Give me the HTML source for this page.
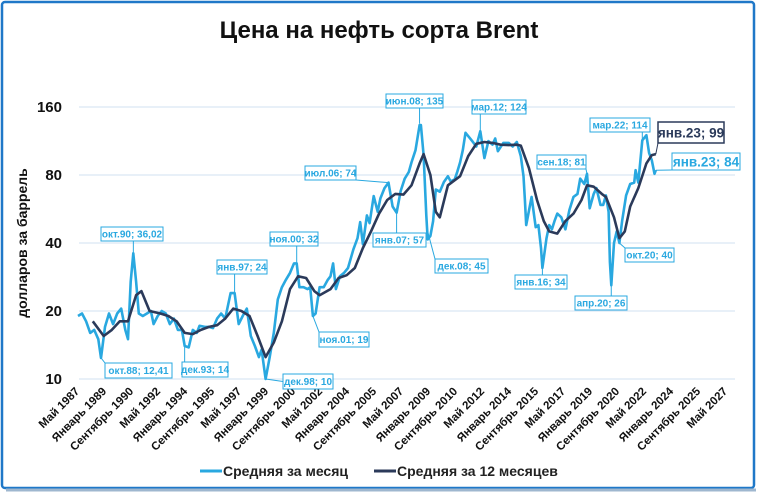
<!DOCTYPE html>
<html><head><meta charset="utf-8"><style>
body{margin:0;background:#fff;}
svg text{font-family:"Liberation Sans","DejaVu Sans",sans-serif;}
</style></head><body>
<svg id="chart" width="758" height="493" viewBox="0 0 758 493" xmlns="http://www.w3.org/2000/svg">
<rect x="2" y="2" width="752" height="486" rx="3" fill="#fff" stroke="#1f78c8" stroke-width="2.5"/>
<line x1="6" y1="490" x2="756" y2="490" stroke="#9fb7cf" stroke-width="3"/>
<text x="379" y="38" text-anchor="middle" font-size="24" font-weight="bold" fill="#111">Цена на нефть сорта Brent</text>
<text transform="translate(27,243) rotate(-90)" text-anchor="middle" font-size="14" font-weight="bold" fill="#111">долларов за баррель</text>
<g id="grid"></g><g id="xlabels"></g><g id="series"></g><g id="annos"></g>
<g>
<line x1="200" y1="471" x2="222" y2="471" stroke="#29a8e0" stroke-width="3"/>
<text x="223" y="476" font-size="14" font-weight="bold" fill="#222">Средняя за месяц</text>
<line x1="374" y1="471" x2="396" y2="471" stroke="#2b3a5a" stroke-width="3"/>
<text x="397" y="476" font-size="14" font-weight="bold" fill="#222">Средняя за 12 месяцев</text>
</g>
</svg>
<script>
const yTicks=[10,20,40,80,160];
const xTickLabels=["Май 1987","Январь 1989","Сентябрь 1990","Май 1992","Январь 1994","Сентябрь 1995","Май 1997","Январь 1999","Сентябрь 2000","Май 2002","Январь 2004","Сентябрь 2005","Май 2007","Январь 2009","Сентябрь 2010","Май 2012","Январь 2014","Сентябрь 2015","Май 2017","Январь 2019","Сентябрь 2020","Май 2022","Январь 2024","Сентябрь 2025","Май 2027"];
const monthlyDates=["1987-05","1987-08","1987-11","1988-02","1988-05","1988-08","1988-10","1989-01","1989-04","1989-07","1989-10","1990-01","1990-04","1990-06","1990-08","1990-10","1990-12","1991-02","1991-05","1991-08","1991-11","1992-01","1992-04","1992-07","1992-10","1993-01","1993-04","1993-07","1993-10","1993-12","1994-03","1994-06","1994-09","1994-11","1995-03","1995-06","1995-09","1995-12","1996-03","1996-06","1996-10","1997-01","1997-04","1997-07","1997-10","1998-01","1998-04","1998-07","1998-09","1998-12","1999-03","1999-06","1999-09","1999-12","2000-03","2000-06","2000-09","2000-11","2001-01","2001-04","2001-07","2001-09","2001-11","2002-01","2002-04","2002-07","2002-10","2002-12","2003-02","2003-04","2003-07","2003-10","2004-01","2004-05","2004-08","2004-10","2004-12","2005-03","2005-05","2005-08","2005-11","2006-01","2006-04","2006-07","2006-10","2007-01","2007-04","2007-07","2007-10","2007-12","2008-03","2008-06","2008-07","2008-09","2008-11","2008-12","2009-02","2009-04","2009-06","2009-09","2009-12","2010-03","2010-05","2010-08","2010-10","2010-12","2011-02","2011-04","2011-07","2011-09","2011-12","2012-03","2012-06","2012-09","2012-12","2013-02","2013-04","2013-08","2013-12","2014-03","2014-06","2014-09","2014-11","2014-12","2015-01","2015-05","2015-08","2015-10","2015-12","2016-01","2016-04","2016-06","2016-08","2016-10","2016-12","2017-03","2017-06","2017-09","2017-12","2018-03","2018-05","2018-08","2018-10","2018-12","2019-03","2019-05","2019-08","2019-10","2019-12","2020-02","2020-03","2020-04","2020-06","2020-08","2020-10","2020-12","2021-03","2021-06","2021-09","2021-10","2021-12","2022-03","2022-06","2022-08","2022-10","2022-12","2023-01"];
const monthlyValues=[19,19.5,18,16,16.5,15,12.4,17,19.5,17.5,19.5,20.5,16.5,15,27,36,27,19.5,19,19.5,20,17.5,19,20,19.5,17.5,18.5,16.5,16.5,14,13.8,16.5,16,17.2,17,17,16.8,18.5,19.5,18.5,24,24,17.5,19,20.5,15.5,14,12.5,13.5,10,12.5,16,22.5,25.5,27.5,29.5,32.5,32.5,25.5,25.5,25,25.5,19,19.5,25.5,25.5,27.5,28.5,32.5,25,28.5,29.5,31,37.5,42,49.5,39.5,53,49,64.5,55,63,70,74,58,54.5,68,77,82.5,91,103,133,133,98,53,41.5,43,50,69,67.5,74.5,79,75,76.5,83,91,103,123,117,113,107,125,95,113,109,116,102,111,111,107,112,97,79,62,48,64,47,48,38,31,42,48,46,50,54,52,46,56,64,66,77,73,81,57,66,70,59,59,65,55,33,26,40,45,40,50,65,73,74,84,74,114,120,100,93,81,84];
const avgDates=["1988-04","1988-12","1989-06","1989-12","1990-06","1990-12","1991-04","1991-10","1992-06","1992-12","1993-06","1993-12","1994-06","1994-12","1995-06","1995-12","1996-06","1996-12","1997-06","1997-12","1998-06","1998-12","1999-06","1999-12","2000-06","2000-12","2001-06","2001-12","2002-04","2002-12","2003-06","2003-12","2004-06","2004-12","2005-06","2005-12","2006-06","2006-12","2007-06","2007-12","2008-06","2008-09","2009-02","2009-06","2009-09","2010-03","2010-12","2011-06","2011-12","2012-06","2012-12","2013-06","2013-12","2014-06","2014-09","2015-03","2015-09","2016-02","2016-06","2016-12","2017-06","2017-12","2018-06","2018-10","2019-03","2019-09","2019-12","2020-06","2020-10","2021-02","2021-06","2021-12","2022-06","2022-10","2023-01"];
const avgValues=[18,15.5,16.5,18,18,23.5,24.5,20,19.5,19,18,16,15.8,16.5,17,17.3,18.5,20.5,20,19,15.5,12.5,14.5,18,25,28.5,28,24.5,23.5,25,28,28.8,31,38,45,54,62,66,65.5,72,90,99,80,55,52,72,79,97,110,112,111,109,108.5,109,108,86,62,50,45,44,50,54,62,72,71,66,64,52,42,45,58,70,90,98,99];
const annoLabels=["окт.88; 12,41","окт.90; 36,02","дек.93; 14","янв.97; 24","ноя.00; 32","дек.98; 10","ноя.01; 19","июл.06; 74","янв.07; 57","июн.08; 135","дек.08; 45","мар.12; 124","янв.16; 34","сен.18; 81","апр.20; 26","окт.20; 40","мар.22; 114","янв.23; 84","янв.23; 99"];
const annoDates=["1988-10","1990-10","1993-12","1997-01","2000-11","1998-12","2001-11","2006-07","2007-01","2008-06","2008-12","2012-03","2016-01","2018-10","2020-04","2020-10","2022-03","2023-01","2023-01"];
const annoValues=[12.41,36.02,14,24,32,10,19,74,57,135,45,124,34,81,26,40,114,84,99];
const annoBoxes=[[105,363,67,15],[101,227,62,14],[182,362,46,15],[217,260,50,14],[270,232,48,14],[283,374,50,15],[319,332,50,15],[305,166,51,14],[373,233,53,14],[386,94,57,14],[435,259,53,14],[472,100,54,14],[515,275,52,14],[537,155,49,14],[575,296,52,14],[625,248,49,14],[590,118,60,14],[672,153,68,17],[658,122,66,21]];
const NS="http://www.w3.org/2000/svg";
function mi(d){const [y,m]=d.split("-").map(Number);return (y-1987)*12+(m-5);}
function X(d){return 78+mi(d)*1.35;}
function Y(v){return 379-68*Math.log2(v/10);}
function el(t,a,p){const e=document.createElementNS(NS,t);for(const k in a)e.setAttribute(k,a[k]);p.appendChild(e);return e;}
const grid=document.getElementById('grid');
yTicks.forEach(v=>{
 const l=el('line',{x1:79,x2:735,y1:Y(v),y2:Y(v),stroke:'#dbe6f3','stroke-width':1.2},grid);
 
 
 const t=el('text',{x:62,y:Y(v)+5,'text-anchor':'end','font-size':15,'font-weight':'bold',fill:'#111'},grid);
 t.textContent=v;
 
 
});
const xl=document.getElementById('xlabels');
xTickLabels.forEach((s,i)=>{
 const x=80+i*27;
 const t=el('text',{transform:`translate(${x},392) rotate(-45)`,'text-anchor':'end','font-size':11.5,'font-weight':'bold',fill:'#111'},xl);
 t.textContent=s;
 
 
});
const ser=document.getElementById('series');
const p1=el('path',{d:monthlyDates.map((d,i)=>(i?'L':'M')+X(d).toFixed(1)+','+Y(monthlyValues[i]).toFixed(1)).join(''),fill:'none',stroke:'#29a8e0','stroke-width':2.6,'stroke-linejoin':'round'},ser);


const p2=el('path',{d:avgDates.map((d,i)=>(i?'L':'M')+X(d).toFixed(1)+','+Y(avgValues[i]).toFixed(1)).join(''),fill:'none',stroke:'#2b3a5a','stroke-width':2.6,'stroke-linejoin':'round'},ser);


const an=document.getElementById('annos');
annoLabels.forEach((s,i)=>{
 const [bx,by,bw,bh]=annoBoxes[i];
 const px=X(annoDates[i]),py=Y(annoValues[i]);
 const big=i>=17, dark=i==18;
 const col=dark?'#2b3a5a':'#29a8e0';
 const cy=py<by?by:(py>by+bh?by+bh:by+bh/2);
 const ax=(px>=bx&&px<=bx+bw)?px:(px<bx?bx:bx+bw);
 const ln=el('line',{x1:px,y1:py,x2:ax,y2:cy,stroke:col,'stroke-width':1},an);
 
 
 const r=el('rect',{x:bx,y:by,width:bw,height:bh,fill:'#fff',stroke:col,'stroke-width':dark?1.5:1},an);
 
 
 const t=el('text',{x:bx+bw/2,y:by+bh/2+(big?5:3.5),'text-anchor':'middle','font-size':big?13.5:10,'font-weight':'bold',fill:col},an);
 t.textContent=s;
 
 
});
</script>
</body></html>
